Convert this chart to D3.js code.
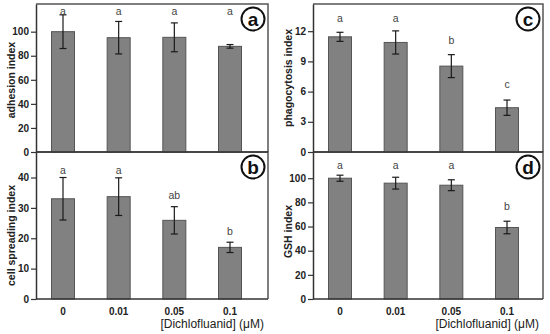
<!DOCTYPE html>
<html>
<head>
<meta charset="utf-8">
<script src="https://cdn.jsdelivr.net/npm/d3@7"></script>
<style>
  body { margin: 0; background: #fff; }
  svg { display: block; font-family: "Liberation Sans", Arial, sans-serif; }
</style>
</head>
<body>
<script>
// data
const doses = ["0", "0.01", "0.05", "0.1"];

const adhesionMean = [100, 95, 95.3, 87.8];
const adhesionErr = [14, 13.5, 12, 1.5];
const adhesionLetters = ["a", "a", "a", "a"];
const adhesionLetterY = [117, 117, 117, 117];
const adhesionTicks = [0, 20, 40, 60, 80, 100];

const spreadingMean = [33, 33.7, 25.9, 17];
const spreadingErr = [7, 6.2, 4.5, 1.7];
const spreadingLetters = ["a", "a", "ab", "b"];
const spreadingLetterY = [42.5, 42.5, 34, 22.2];
const spreadingTicks = [0, 10, 20, 30, 40];

const phagoMean = [11.44, 10.88, 8.53, 4.4];
const phagoErr = [0.45, 1.15, 1.14, 0.76];
const phagoLetters = ["a", "a", "b", "c"];
const phagoLetterY = [13.3, 13.3, 11.1, 6.7];
const phagoTicks = [0, 3, 6, 9, 12];

const gshMean = [100, 95.9, 94.2, 59.2];
const gshErr = [2.5, 4.9, 4.5, 5.2];
const gshLetters = ["a", "a", "a", "b"];
const gshLetterY = [111, 111, 111, 76.5];
const gshTicks = [0, 20, 40, 60, 80, 100];

const svg = d3.select("body").append("svg").attr("width", 550).attr("height", 334);

function panel(opt) {
  const w = opt.right - opt.left, h = opt.bottom - opt.top;
  const g = svg.append("g").attr("transform", `translate(${opt.left},${opt.top})`);
  const x = d3.scalePoint().domain(doses).range([27, 194]);
  const y = d3.scaleLinear().domain([0, opt.ymax]).range([h, 0]);
  const bw = 23;

  // frame (top + right)
  g.append("path")
    .attr("d", `M0,0H${w}V${h}`)
    .attr("fill", "none").attr("stroke", "#555").attr("stroke-width", 1.5);

  g.selectAll("rect.bar").data(opt.mean).enter().append("rect")
    .attr("class", "bar")
    .attr("x", (d, i) => x(doses[i]) - bw / 2)
    .attr("y", d => y(d))
    .attr("width", bw)
    .attr("height", d => h - y(d))
    .attr("fill", "#818181").attr("stroke", "#555").attr("stroke-width", 1);

  const eb = g.selectAll("g.err").data(opt.mean).enter().append("g").attr("class", "err");
  eb.append("line")
    .attr("x1", (d, i) => x(doses[i])).attr("x2", (d, i) => x(doses[i]))
    .attr("y1", (d, i) => y(d + opt.err[i])).attr("y2", (d, i) => y(d - opt.err[i]));
  eb.append("line")
    .attr("x1", (d, i) => x(doses[i]) - 3.5).attr("x2", (d, i) => x(doses[i]) + 3.5)
    .attr("y1", (d, i) => y(d + opt.err[i])).attr("y2", (d, i) => y(d + opt.err[i]));
  eb.append("line")
    .attr("x1", (d, i) => x(doses[i]) - 3.5).attr("x2", (d, i) => x(doses[i]) + 3.5)
    .attr("y1", (d, i) => y(d - opt.err[i])).attr("y2", (d, i) => y(d - opt.err[i]));
  eb.selectAll("line").attr("stroke", "#1a1a1a").attr("stroke-width", 1.2);

  g.selectAll("text.sig").data(opt.letters).enter().append("text")
    .attr("class", "sig")
    .attr("x", (d, i) => x(doses[i]))
    .attr("y", (d, i) => y(opt.letterY[i]))
    .attr("dy", "0.35em")
    .attr("text-anchor", "middle")
    .attr("font-size", 10.5).attr("fill", "#444")
    .text(d => d);

  // y axis
  const ya = g.append("g")
    .call(d3.axisLeft(y).tickValues(opt.ticks).tickSize(5).tickPadding(2).tickSizeOuter(0));
  ya.select(".domain").attr("stroke", "#333").attr("stroke-width", 1.5);
  ya.selectAll(".tick line").attr("stroke", "#333").attr("stroke-width", 1.2);
  ya.selectAll(".tick text").attr("font-size", 10).attr("font-weight", "bold").attr("fill", "#222")
    .attr("font-family", "'Liberation Sans', Arial, sans-serif");

  // baseline
  g.append("line").attr("x1", 0).attr("x2", w).attr("y1", h).attr("y2", h)
    .attr("stroke", "#333").attr("stroke-width", 1.5);

  g.append("text")
    .attr("transform", `translate(-25,${h / 2 + opt.titleShift}) rotate(-90)`)
    .attr("text-anchor", "middle").attr("dy", "0.35em")
    .attr("font-size", 10.5).attr("font-weight", "bold").attr("fill", "#222")
    .text(opt.title);

  // panel letter in circle
  const cx = w - 15, cy = 15;
  g.append("circle").attr("cx", cx).attr("cy", cy).attr("r", 11.5)
    .attr("fill", "#fff").attr("stroke", "#111").attr("stroke-width", 2);
  g.append("text").attr("x", cx).attr("y", cy).attr("dy", "0.36em")
    .attr("text-anchor", "middle").attr("font-size", 19).attr("font-weight", "bold")
    .attr("fill", "#111").text(opt.tag);

  if (opt.xlabels) {
    g.selectAll("text.xl").data(doses).enter().append("text")
      .attr("class", "xl")
      .attr("x", d => x(d)).attr("y", h + 12).attr("dy", "0.35em")
      .attr("text-anchor", "middle").attr("font-size", 10).attr("font-weight", "bold")
      .attr("fill", "#222").text(d => d);
    g.append("text")
      .attr("x", w - 4).attr("y", h + 25).attr("dy", "0.35em")
      .attr("text-anchor", "end").attr("font-size", 12).attr("fill", "#222")
      .text("[Dichlofluanid] (μM)");
  }
}

panel({ left: 36, right: 268, top: 152, bottom: 299, ymax: 48.4, mean: spreadingMean, err: spreadingErr,
  letters: spreadingLetters, letterY: spreadingLetterY, ticks: spreadingTicks,
  title: "cell spreading index", titleShift: 10, tag: "b", xlabels: true });
panel({ left: 36, right: 268, top: 4, bottom: 152, ymax: 123, mean: adhesionMean, err: adhesionErr,
  letters: adhesionLetters, letterY: adhesionLetterY, ticks: adhesionTicks,
  title: "adhesion index", titleShift: 2, tag: "a" });
panel({ left: 313, right: 543, top: 152, bottom: 299, ymax: 121.7, mean: gshMean, err: gshErr,
  letters: gshLetters, letterY: gshLetterY, ticks: gshTicks,
  title: "GSH index", titleShift: 6, tag: "d", xlabels: true });
panel({ left: 313, right: 543, top: 4, bottom: 152, ymax: 14.7, mean: phagoMean, err: phagoErr,
  letters: phagoLetters, letterY: phagoLetterY, ticks: phagoTicks,
  title: "phagocytosis index", titleShift: 0, tag: "c" });
</script>
</body>
</html>
